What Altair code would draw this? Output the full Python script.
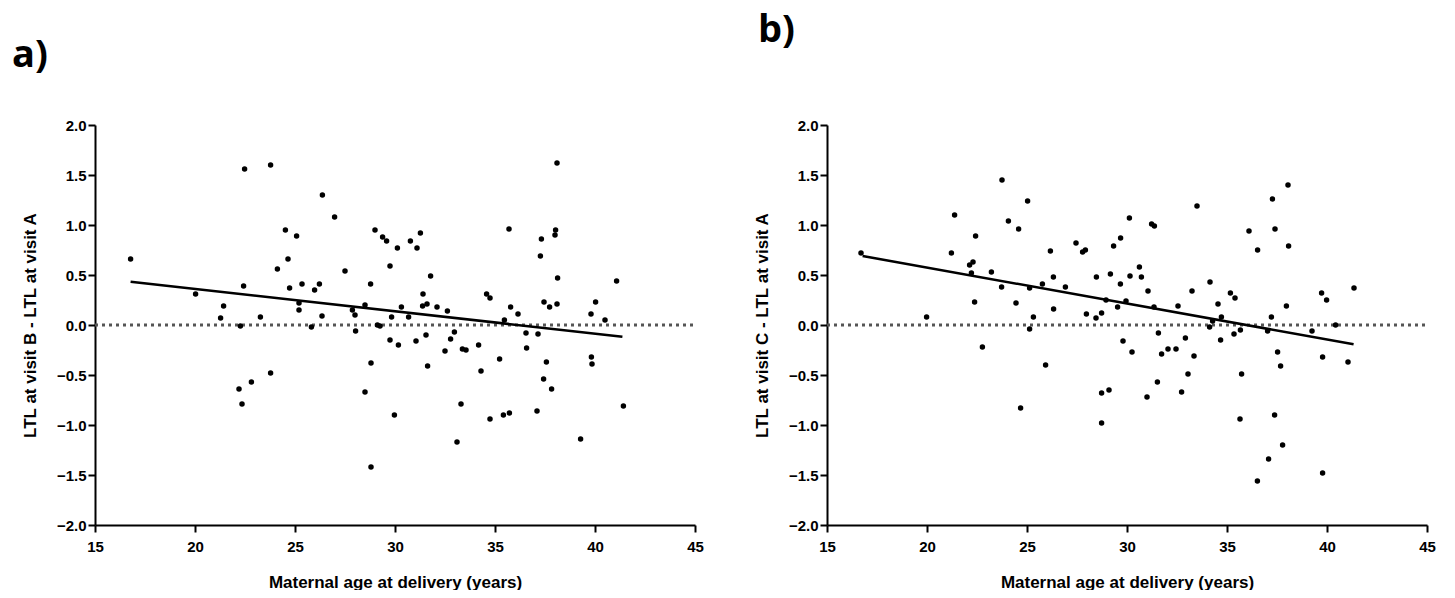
import altair as alt
import pandas as pd

# ---- data ----
age_a = [16.78, 20.03, 21.43, 21.28, 22.27, 22.48, 22.43, 23.27, 23.78, 24.52,
         24.12, 24.65, 25.08, 24.73, 25.35, 25.20, 25.20, 25.82, 25.98, 26.22,
         26.37, 26.35, 26.98, 27.50, 27.87, 28.00, 28.50, 28.78, 29.00, 29.38,
         29.58, 29.75, 29.83, 30.12, 29.12, 29.25, 28.03, 29.75, 30.17, 28.80,
         28.50, 29.97, 28.80, 22.20, 22.35, 22.82, 23.78, 30.77, 31.10, 31.27,
         31.78, 31.40, 31.38, 31.60, 30.32, 30.68, 32.10, 32.62, 34.58, 34.75,
         35.47, 35.70, 35.78, 36.15, 37.27, 37.32, 37.45, 37.73, 38.10, 38.00,
         38.03, 38.10, 38.13, 39.80, 40.03, 40.50, 41.08, 31.05, 31.55, 31.63,
         32.50, 32.78, 32.97, 33.37, 33.55, 33.30, 33.10, 34.18, 34.30, 34.75,
         35.23, 35.42, 35.72, 36.55, 36.58, 37.15, 37.10, 37.57, 37.43, 37.83,
         39.82, 39.85, 39.28, 41.42]
ltl_a = [0.66, 0.31, 0.19, 0.07, -0.01, 1.56, 0.39, 0.08, 1.60, 0.95,
         0.56, 0.66, 0.89, 0.37, 0.41, 0.22, 0.15, -0.02, 0.35, 0.41,
         1.30, 0.09, 1.08, 0.54, 0.15, 0.10, 0.20, 0.41, 0.95, 0.88,
         0.84, 0.59, 0.08, 0.77, 0.00, -0.01, -0.06, -0.15, -0.20, -0.38,
         -0.67, -0.90, -1.42, -0.64, -0.79, -0.57, -0.48, 0.84, 0.77, 0.92,
         0.49, 0.31, 0.19, 0.21, 0.18, 0.08, 0.18, 0.14, 0.31, 0.27,
         0.05, 0.96, 0.18, 0.11, 0.69, 0.86, 0.23, 0.18, 0.21, 0.90,
         0.95, 1.62, 0.47, 0.11, 0.23, 0.05, 0.44, -0.16, -0.10, -0.41,
         -0.26, -0.14, -0.07, -0.24, -0.25, -0.79, -1.17, -0.20, -0.46, -0.94,
         -0.34, -0.90, -0.88, -0.08, -0.23, -0.09, -0.86, -0.37, -0.54, -0.64,
         -0.32, -0.39, -1.14, -0.81]

age_b = [16.70, 19.98, 21.38, 21.22, 22.43, 22.13, 22.30, 22.22, 22.38, 23.22,
         23.75, 24.07, 23.73, 24.45, 24.58, 25.03, 25.13, 25.32, 25.13, 25.77,
         26.17, 26.32, 26.33, 26.92, 27.45, 27.78, 27.92, 27.97, 28.47, 28.45,
         28.73, 28.95, 29.17, 29.33, 29.68, 29.67, 29.53, 29.95, 30.12, 30.15,
         30.62, 30.72, 31.05, 31.23, 31.37, 31.35, 32.55, 33.25, 33.50, 34.15,
         34.55, 34.72, 34.28, 34.13, 35.17, 35.40, 36.10, 36.53, 37.27, 37.40,
         37.22, 38.05, 38.08, 37.97, 39.73, 39.98, 40.43, 41.35, 22.77, 24.68,
         25.93, 28.73, 29.10, 28.73, 29.80, 30.25, 31.00, 31.52, 31.57, 31.73,
         32.05, 32.45, 32.73, 32.92, 33.05, 33.35, 34.68, 35.35, 35.67, 35.73,
         35.65, 36.52, 37.03, 37.53, 37.68, 37.38, 37.08, 37.78, 39.25, 39.78,
         39.78, 41.05]
ltl_b = [0.72, 0.08, 1.10, 0.72, 0.89, 0.60, 0.63, 0.52, 0.23, 0.53,
         1.45, 1.04, 0.38, 0.22, 0.96, 1.24, 0.37, 0.08, -0.04, 0.41,
         0.74, 0.48, 0.16, 0.38, 0.82, 0.73, 0.75, 0.11, 0.48, 0.07,
         0.12, 0.25, 0.51, 0.79, 0.87, 0.41, 0.18, 0.24, 1.07, 0.49,
         0.58, 0.48, 0.34, 1.01, 0.99, 0.18, 0.19, 0.34, 1.19, 0.43,
         0.21, 0.08, 0.04, -0.02, 0.32, 0.27, 0.94, 0.75, 1.26, 0.96,
         0.08, 1.40, 0.79, 0.19, 0.32, 0.25, 0.00, 0.37, -0.22, -0.83,
         -0.40, -0.68, -0.65, -0.98, -0.16, -0.27, -0.72, -0.57, -0.08, -0.29,
         -0.24, -0.24, -0.67, -0.13, -0.49, -0.31, -0.15, -0.09, -0.05, -0.49,
         -0.94, -1.56, -0.06, -0.27, -0.41, -0.90, -1.34, -1.20, -0.06, -0.32,
         -1.48, -0.37]

fit_age_a = [16.78, 41.37]
fit_ltl_a = [0.433, -0.117]
fit_age_b = [16.78, 41.33]
fit_ltl_b = [0.69, -0.193]

zero_x = [15, 45]
zero_y = [0, 0]

x_ticks = [15, 20, 25, 30, 35, 40, 45]
y_ticks = [-2.0, -1.5, -1.0, -0.5, 0.0, 0.5, 1.0, 1.5, 2.0]

panel_labels = ["a)", "b)"]
y_titles = ["LTL at visit B - LTL at visit A", "LTL at visit C - LTL at visit A"]
x_title = "Maternal age at delivery (years)"


def panel(ages, vals, fa, fv, ytitle, label, lx, ly):
    xs = alt.Scale(domain=[15, 45], nice=False, zero=False)
    ys = alt.Scale(domain=[-2, 2], nice=False)
    xaxis = alt.Axis(values=x_ticks, title=x_title, labelPadding=7, titlePadding=20,
                     format="d", labelFlush=False)
    yaxis = alt.Axis(values=y_ticks, title=ytitle, format=".1f", labelPadding=2,
                     titlePadding=17, labelFlush=False)

    pts_df = pd.DataFrame({"age": ages, "val": vals})
    fit_df = pd.DataFrame({"age": fa, "val": fv})
    zero_df = pd.DataFrame({"age": zero_x, "val": zero_y})
    lab_df = pd.DataFrame({"t": [label]})

    X = alt.X("age:Q", scale=xs, axis=xaxis)
    Y = alt.Y("val:Q", scale=ys, axis=yaxis)

    zero = alt.Chart(zero_df).mark_line(
        strokeDash=[3, 4], color="#555555", strokeWidth=3
    ).encode(x=X, y=Y)
    fit = alt.Chart(fit_df).mark_line(color="black", strokeWidth=2.5).encode(x=X, y=Y)
    pts = alt.Chart(pts_df).mark_circle(size=30, color="black", opacity=1).encode(x=X, y=Y)
    lab = alt.Chart(lab_df).mark_text(
        fontSize=38, fontWeight="bold", font="Open Sans", align="left",
        baseline="alphabetic", color="black"
    ).encode(x=alt.value(lx), y=alt.value(ly), text="t:N")
    return alt.layer(zero, fit, pts, lab).properties(width=600, height=400)


left = panel(age_a, ltl_a, fit_age_a, fit_ltl_a, y_titles[0], panel_labels[0], -83, -58)
right = panel(age_b, ltl_b, fit_age_b, fit_ltl_b, y_titles[1], panel_labels[1], -69, -83)

chart = alt.hconcat(left, right, spacing=49).properties(
    padding={"left": 4, "top": 4, "right": 5, "bottom": 0}
).configure_view(stroke=None).configure_axis(
    grid=False,
    domainColor="black", domainWidth=2,
    tickColor="black", tickWidth=2, tickSize=7,
    labelFont="Liberation Sans", labelFontWeight="bold", labelFontSize=15, labelColor="black",
    titleFont="Liberation Sans", titleFontWeight="bold", titleFontSize=17, titleColor="black",
)

chart.save("out.html", embed_options={"renderer": "svg", "actions": False})
